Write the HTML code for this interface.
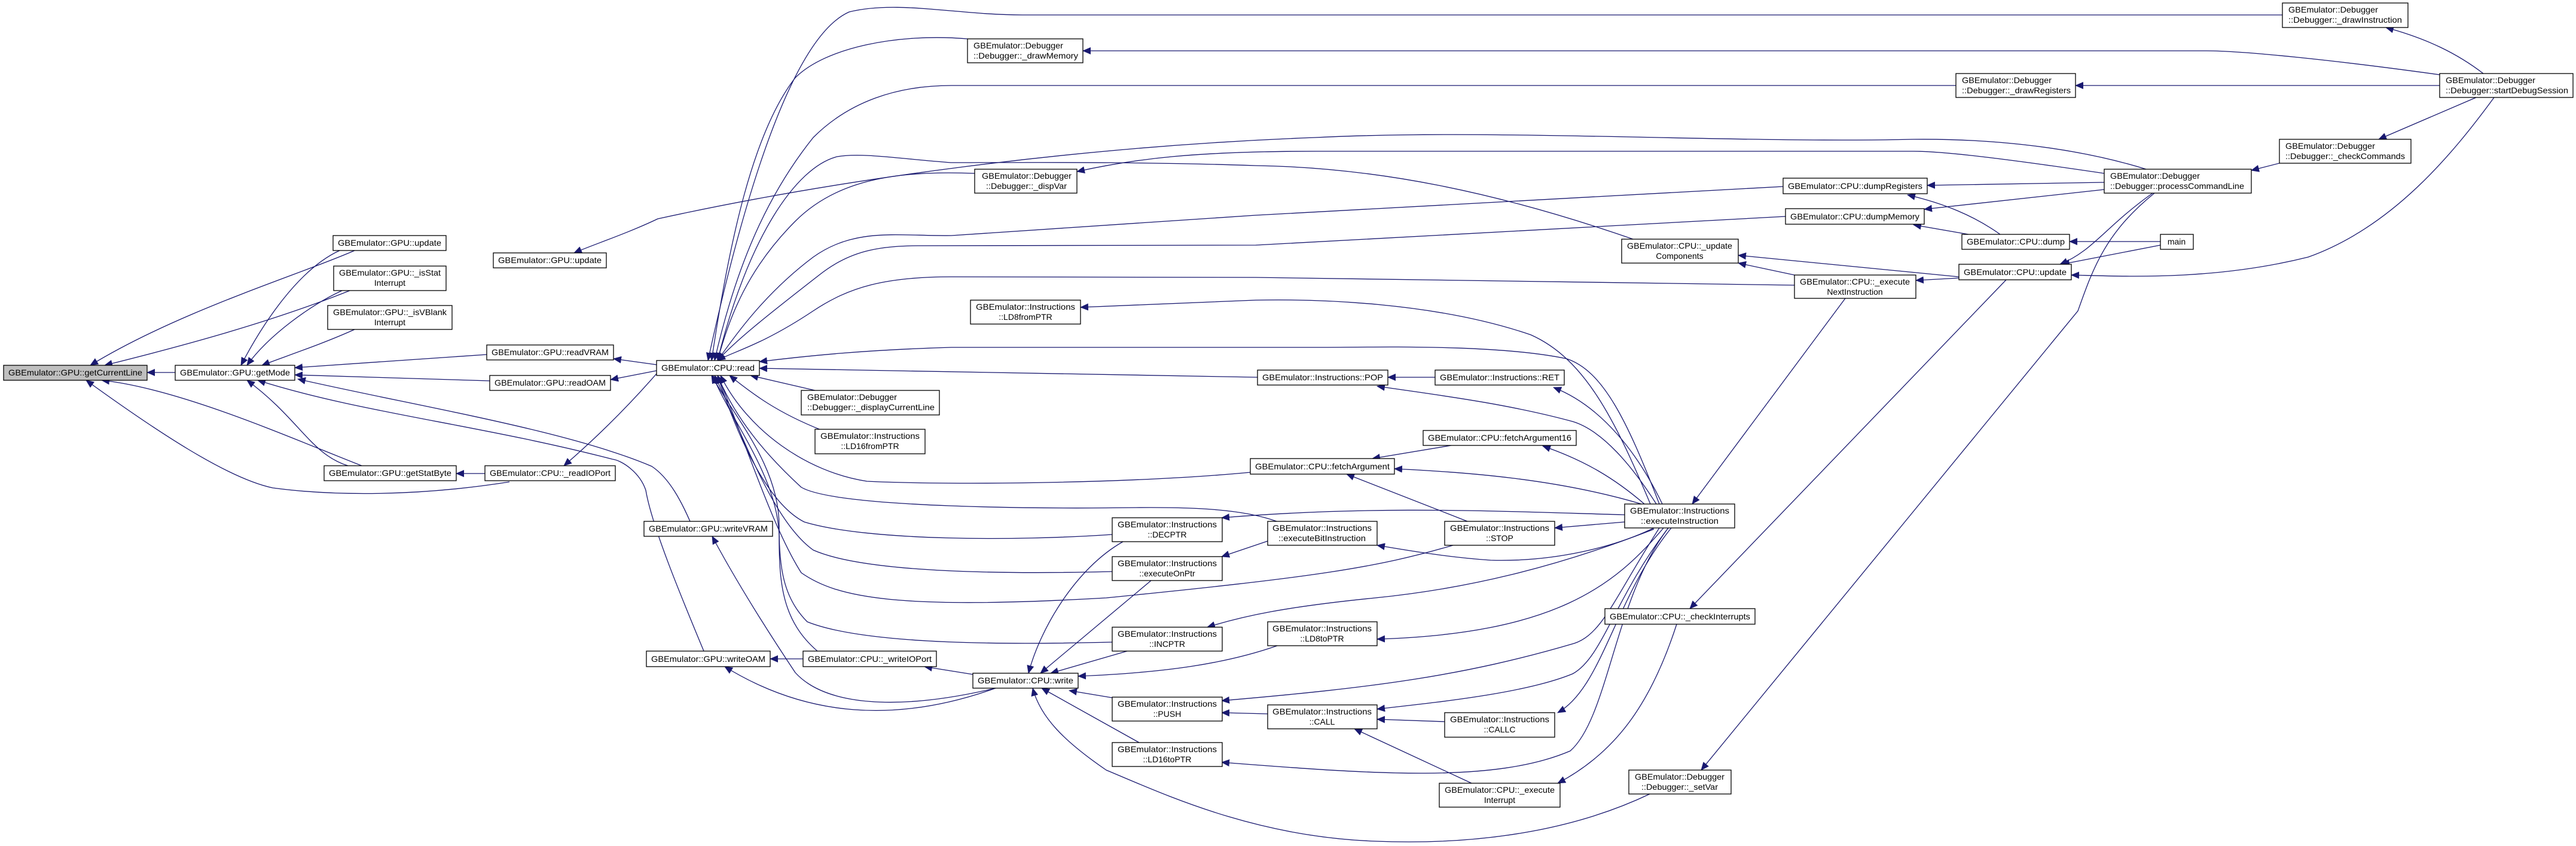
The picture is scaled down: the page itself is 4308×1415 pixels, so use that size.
<!DOCTYPE html>
<html><head><meta charset="utf-8"><style>
html,body{margin:0;padding:0;background:#fff}
svg{display:block}
text{font-family:"Liberation Sans",sans-serif;font-size:14px;fill:#000}
.e{fill:none;stroke:#191970;stroke-width:1.3}
.n{fill:#fff;stroke:#000;stroke-width:1.3}
</style></head><body>
<svg width="4308" height="1415" viewBox="0 0 4308 1415" xmlns="http://www.w3.org/2000/svg">
<defs><marker id="a" markerUnits="userSpaceOnUse" markerWidth="14" markerHeight="12" refX="13" refY="6" orient="auto"><path d="M0,0 L14,6 L0,12 z" fill="#191970"/></marker></defs>
<g class="e" marker-end="url(#a)">
<path d="M293,623 L246,623"/>
<path d="M593,419 C500,460 300,520 151,611"/>
<path d="M568,419 C500,450 440,540 403,611"/>
<path d="M585,486 C450,540 300,580 175,611"/>
<path d="M572,486 C520,510 450,560 413,611"/>
<path d="M593,551 C540,575 480,595 438,611"/>
<path d="M605,779 C480,730 300,650 170,636"/>
<path d="M582,779 C520,760 500,700 413,636"/>
<path d="M852,806 C700,830 560,830 456,816 C380,800 260,720 144,636"/>
<path d="M811,792 L763,792"/>
<path d="M1098,625 C1050,680 1000,730 943,779"/>
<path d="M814,593 L493,615"/>
<path d="M1098,610 L1026,600"/>
<path d="M819,637 L493,627"/>
<path d="M1098,620 L1021,635"/>
<path d="M1154,872 C1140,840 1120,800 1090,780 C950,720 700,680 498,634"/>
<path d="M1177,1089 C1140,1000 1090,880 1080,820 C1070,790 1040,770 1024,768 C800,710 600,690 431,636"/>
<path d="M1665,1151 C1500,1190 1380,1180 1330,1125 C1280,1050 1230,970 1191,897"/>
<path d="M1665,1151 C1500,1210 1350,1200 1212,1115"/>
<path d="M1627,1128 L1546,1115"/>
<path d="M1343,1102 L1288,1102"/>
<path d="M1367,1089 C1310,1040 1303,980 1303,900 C1303,800 1220,700 1192,628"/>
<path d="M3817,25 L1710,25 C1600,25 1500,0 1420,20 C1330,60 1250,300 1184,603"/>
<path d="M1618,65 C1500,55 1380,80 1330,130 C1260,220 1220,400 1190,603"/>
<path d="M3271,143 L1591,143 C1500,143 1420,170 1360,230 C1280,330 1230,450 1195,603"/>
<path d="M4080,125 C3900,100 3750,85 3690,85 L1811,85"/>
<path d="M4153,123 C4110,90 4060,65 3990,46"/>
<path d="M4080,143 L3471,143"/>
<path d="M4141,163 L3978,233"/>
<path d="M4171,163 C4100,260 4000,380 3860,430 C3700,470 3550,462 3464,460"/>
<path d="M3812,273 L3765,285"/>
<path d="M3589,283 C3450,240 3300,232 3200,233 C2900,240 2500,215 2200,230 C1800,245 1400,300 1100,366 C1050,390 990,410 960,423"/>
<path d="M2731,400 C2500,320 2300,280 2100,277 C1900,270 1700,272 1590,272 C1500,265 1440,255 1400,262 C1330,280 1250,400 1200,603"/>
<path d="M3519,290 C3350,265 3250,253 3200,253 L2200,253 C2000,253 1900,265 1801,287"/>
<path d="M1630,290 C1500,285 1400,300 1330,370 C1250,450 1220,530 1200,603"/>
<path d="M3519,305 L3223,310"/>
<path d="M3519,317 L3218,350"/>
<path d="M2982,312 L2100,360 L1591,394 C1500,395 1430,380 1360,430 C1280,490 1230,560 1200,603"/>
<path d="M2986,362 L2100,410 L1535,411 C1470,411 1420,420 1370,460 C1280,530 1230,570 1200,603"/>
<path d="M3001,477 L2100,464 L1591,463 C1480,463 1420,480 1360,520 C1270,580 1220,590 1200,603"/>
<path d="M3345,392 C3300,360 3250,340 3190,326"/>
<path d="M3292,392 L3200,376"/>
<path d="M3613,404 L3461,404"/>
<path d="M3613,410 L3448,442"/>
<path d="M3600,323 C3520,380 3500,420 3445,442"/>
<path d="M3276,463 L2907,427"/>
<path d="M3001,460 L2907,440"/>
<path d="M3276,465 L3204,469"/>
<path d="M3355,468 L2826,1018"/>
<path d="M3603,323 C3520,390 3500,450 3475,520 L2845,1288"/>
<path d="M3086,499 L2830,843"/>
<path d="M2759,1328 C2650,1380 2500,1415 2300,1407 C2100,1400 1950,1330 1850,1288 C1780,1240 1740,1200 1727,1151"/>
<path d="M2804,1044 C2760,1180 2700,1260 2605,1310"/>
<path d="M2760,843 C2700,700 2650,600 2560,560 C2400,505 2200,500 2100,502 L1807,514"/>
<path d="M2775,843 C2720,700 2680,620 2620,600 C2500,575 2300,581 2200,581 L1591,581 C1450,585 1350,595 1270,605"/>
<path d="M2770,843 C2730,780 2680,720 2630,705 C2520,675 2400,660 2303,646"/>
<path d="M2780,843 C2740,760 2680,680 2598,648"/>
<path d="M2750,843 C2700,800 2650,770 2580,746"/>
<path d="M2745,843 C2600,800 2450,790 2332,784"/>
<path d="M2717,873 L2600,883"/>
<path d="M2766,883 C2700,915 2600,940 2493,937 C2420,932 2350,920 2303,912"/>
<path d="M2782,883 C2700,980 2600,1060 2303,1069"/>
<path d="M2790,883 C2700,1000 2680,1100 2630,1127 C2550,1160 2400,1175 2303,1186"/>
<path d="M2795,883 C2700,1000 2680,1150 2605,1192"/>
<path d="M2717,861 C2500,855 2300,845 2043,866"/>
<path d="M2766,885 C2600,950 2450,985 2300,1000 C2150,1015 2080,1030 2019,1049"/>
<path d="M2775,883 C2700,1000 2680,1060 2633,1076 C2450,1130 2300,1150 2043,1172"/>
<path d="M2790,883 C2700,1000 2690,1200 2626,1256 C2500,1310 2300,1295 2043,1275"/>
<path d="M2120,905 L2043,931"/>
<path d="M2430,912 C2300,950 2200,965 1850,1000 C1500,1020 1400,1000 1340,958 C1290,880 1240,720 1200,628"/>
<path d="M2454,872 L2252,793"/>
<path d="M2427,745 L2295,767"/>
<path d="M2135,872 C2080,852 2000,848 1900,849 C1750,851 1400,850 1340,815 C1280,760 1230,700 1200,628"/>
<path d="M1860,894 C1700,905 1450,905 1345,873 C1280,840 1230,720 1200,628"/>
<path d="M1860,956 C1700,960 1450,960 1360,920 C1290,870 1240,720 1195,628"/>
<path d="M1860,1074 C1700,1078 1450,1080 1350,1040 C1310,1000 1303,950 1303,880 C1303,780 1230,700 1190,628"/>
<path d="M1878,906 C1800,950 1740,1050 1720,1126"/>
<path d="M1925,971 L1740,1126"/>
<path d="M1885,1089 L1757,1126"/>
<path d="M2136,1080 C2050,1110 1950,1125 1803,1131"/>
<path d="M1860,1167 L1788,1155"/>
<path d="M1905,1242 L1742,1151"/>
<path d="M2120,1194 L2043,1192"/>
<path d="M2416,1207 L2303,1203"/>
<path d="M2461,1310 L2265,1219"/>
<path d="M2091,790 C1900,808 1600,812 1450,805 C1350,790 1250,720 1205,628"/>
<path d="M2103,631 L1270,616"/>
<path d="M2400,631 L2321,631"/>
<path d="M1363,653 L1255,628"/>
<path d="M1373,719 C1300,690 1260,660 1220,628"/>
</g>
<g>
<rect x="6" y="611" width="240" height="25" fill="#bfbfbf" stroke="#000" stroke-width="1.3"/>
<text x="14" y="628" textLength="224" lengthAdjust="spacingAndGlyphs">GBEmulator::GPU::getCurrentLine</text>
<rect class="n" x="293" y="611" width="200" height="25"/><text x="301" y="628" textLength="184" lengthAdjust="spacingAndGlyphs">GBEmulator::GPU::getMode</text>
<rect class="n" x="557" y="394" width="189" height="25"/><text x="565" y="411" textLength="173" lengthAdjust="spacingAndGlyphs">GBEmulator::GPU::update</text>
<rect class="n" x="558" y="445" width="188" height="41"/><text x="567" y="461" textLength="170" lengthAdjust="spacingAndGlyphs">GBEmulator::GPU::_isStat</text><text x="652" y="478" text-anchor="middle">Interrupt</text>
<rect class="n" x="548" y="511" width="208" height="40"/><text x="557" y="527" textLength="190" lengthAdjust="spacingAndGlyphs">GBEmulator::GPU::_isVBlank</text><text x="652" y="544" text-anchor="middle">Interrupt</text>
<rect class="n" x="825" y="423" width="189" height="25"/><text x="833" y="440" textLength="173" lengthAdjust="spacingAndGlyphs">GBEmulator::GPU::update</text>
<rect class="n" x="814" y="577" width="212" height="25"/><text x="822" y="594" textLength="196" lengthAdjust="spacingAndGlyphs">GBEmulator::GPU::readVRAM</text>
<rect class="n" x="819" y="628" width="202" height="25"/><text x="827" y="645" textLength="186" lengthAdjust="spacingAndGlyphs">GBEmulator::GPU::readOAM</text>
<rect class="n" x="542" y="779" width="221" height="25"/><text x="550" y="796" textLength="205" lengthAdjust="spacingAndGlyphs">GBEmulator::GPU::getStatByte</text>
<rect class="n" x="811" y="779" width="218" height="25"/><text x="819" y="796" textLength="202" lengthAdjust="spacingAndGlyphs">GBEmulator::CPU::_readIOPort</text>
<rect class="n" x="1077" y="872" width="215" height="25"/><text x="1085" y="889" textLength="199" lengthAdjust="spacingAndGlyphs">GBEmulator::GPU::writeVRAM</text>
<rect class="n" x="1081" y="1089" width="207" height="26"/><text x="1089" y="1107" textLength="191" lengthAdjust="spacingAndGlyphs">GBEmulator::GPU::writeOAM</text>
<rect class="n" x="1343" y="1089" width="223" height="26"/><text x="1351" y="1107" textLength="207" lengthAdjust="spacingAndGlyphs">GBEmulator::CPU::_writeIOPort</text>
<rect class="n" x="1098" y="603" width="172" height="25"/><text x="1106" y="620" textLength="156" lengthAdjust="spacingAndGlyphs">GBEmulator::CPU::read</text>
<rect class="n" x="1618" y="65" width="193" height="40"/><text x="1628" y="81" textLength="150" lengthAdjust="spacingAndGlyphs">GBEmulator::Debugger</text><text x="1628" y="98" textLength="175" lengthAdjust="spacingAndGlyphs">::Debugger::_drawMemory</text>
<rect class="n" x="1630" y="283" width="171" height="40"/><text x="1642" y="299" textLength="150" lengthAdjust="spacingAndGlyphs">GBEmulator::Debugger</text><text x="1649" y="316" textLength="135" lengthAdjust="spacingAndGlyphs">::Debugger::_dispVar</text>
<rect class="n" x="1623" y="502" width="184" height="40"/><text x="1715" y="518" text-anchor="middle" textLength="166" lengthAdjust="spacingAndGlyphs">GBEmulator::Instructions</text><text x="1715" y="535" text-anchor="middle">::LD8fromPTR</text>
<rect class="n" x="1340" y="653" width="231" height="41"/><text x="1350" y="669" textLength="150" lengthAdjust="spacingAndGlyphs">GBEmulator::Debugger</text><text x="1350" y="686" textLength="213" lengthAdjust="spacingAndGlyphs">::Debugger::_displayCurrentLine</text>
<rect class="n" x="1363" y="718" width="184" height="41"/><text x="1455" y="734" text-anchor="middle" textLength="166" lengthAdjust="spacingAndGlyphs">GBEmulator::Instructions</text><text x="1455" y="751" text-anchor="middle">::LD16fromPTR</text>
<rect class="n" x="1627" y="1126" width="176" height="25"/><text x="1635" y="1143" textLength="160" lengthAdjust="spacingAndGlyphs">GBEmulator::CPU::write</text>
<rect class="n" x="1860" y="866" width="184" height="40"/><text x="1952" y="882" text-anchor="middle" textLength="166" lengthAdjust="spacingAndGlyphs">GBEmulator::Instructions</text><text x="1952" y="899" text-anchor="middle">::DECPTR</text>
<rect class="n" x="1860" y="931" width="184" height="40"/><text x="1952" y="947" text-anchor="middle" textLength="166" lengthAdjust="spacingAndGlyphs">GBEmulator::Instructions</text><text x="1952" y="964" text-anchor="middle">::executeOnPtr</text>
<rect class="n" x="1860" y="1049" width="184" height="40"/><text x="1952" y="1065" text-anchor="middle" textLength="166" lengthAdjust="spacingAndGlyphs">GBEmulator::Instructions</text><text x="1952" y="1082" text-anchor="middle">::INCPTR</text>
<rect class="n" x="1860" y="1166" width="184" height="40"/><text x="1952" y="1182" text-anchor="middle" textLength="166" lengthAdjust="spacingAndGlyphs">GBEmulator::Instructions</text><text x="1952" y="1199" text-anchor="middle">::PUSH</text>
<rect class="n" x="1860" y="1242" width="184" height="40"/><text x="1952" y="1258" text-anchor="middle" textLength="166" lengthAdjust="spacingAndGlyphs">GBEmulator::Instructions</text><text x="1952" y="1275" text-anchor="middle">::LD16toPTR</text>
<rect class="n" x="2091" y="767" width="241" height="26"/><text x="2099" y="785" textLength="225" lengthAdjust="spacingAndGlyphs">GBEmulator::CPU::fetchArgument</text>
<rect class="n" x="2103" y="619" width="218" height="25"/><text x="2111" y="636" textLength="202" lengthAdjust="spacingAndGlyphs">GBEmulator::Instructions::POP</text>
<rect class="n" x="2400" y="619" width="216" height="25"/><text x="2408" y="636" textLength="200" lengthAdjust="spacingAndGlyphs">GBEmulator::Instructions::RET</text>
<rect class="n" x="2380" y="720" width="256" height="25"/><text x="2388" y="737" textLength="240" lengthAdjust="spacingAndGlyphs">GBEmulator::CPU::fetchArgument16</text>
<rect class="n" x="2120" y="872" width="183" height="40"/><text x="2211" y="888" text-anchor="middle" textLength="166" lengthAdjust="spacingAndGlyphs">GBEmulator::Instructions</text><text x="2211" y="905" text-anchor="middle" textLength="146" lengthAdjust="spacingAndGlyphs">::executeBitInstruction</text>
<rect class="n" x="2416" y="872" width="184" height="40"/><text x="2508" y="888" text-anchor="middle" textLength="166" lengthAdjust="spacingAndGlyphs">GBEmulator::Instructions</text><text x="2508" y="905" text-anchor="middle">::STOP</text>
<rect class="n" x="2120" y="1040" width="183" height="40"/><text x="2211" y="1056" text-anchor="middle" textLength="166" lengthAdjust="spacingAndGlyphs">GBEmulator::Instructions</text><text x="2211" y="1073" text-anchor="middle">::LD8toPTR</text>
<rect class="n" x="2120" y="1179" width="183" height="40"/><text x="2211" y="1195" text-anchor="middle" textLength="166" lengthAdjust="spacingAndGlyphs">GBEmulator::Instructions</text><text x="2211" y="1212" text-anchor="middle">::CALL</text>
<rect class="n" x="2416" y="1192" width="184" height="41"/><text x="2508" y="1208" text-anchor="middle" textLength="166" lengthAdjust="spacingAndGlyphs">GBEmulator::Instructions</text><text x="2508" y="1225" text-anchor="middle">::CALLC</text>
<rect class="n" x="2407" y="1310" width="202" height="40"/><text x="2508" y="1326" text-anchor="middle" textLength="184" lengthAdjust="spacingAndGlyphs">GBEmulator::CPU::_execute</text><text x="2508" y="1343" text-anchor="middle">Interrupt</text>
<rect class="n" x="2717" y="843" width="184" height="40"/><text x="2809" y="859" text-anchor="middle" textLength="166" lengthAdjust="spacingAndGlyphs">GBEmulator::Instructions</text><text x="2809" y="876" text-anchor="middle" textLength="130" lengthAdjust="spacingAndGlyphs">::executeInstruction</text>
<rect class="n" x="2684" y="1018" width="251" height="26"/><text x="2692" y="1036" textLength="235" lengthAdjust="spacingAndGlyphs">GBEmulator::CPU::_checkInterrupts</text>
<rect class="n" x="2724" y="1288" width="171" height="40"/><text x="2809" y="1304" text-anchor="middle" textLength="150" lengthAdjust="spacingAndGlyphs">GBEmulator::Debugger</text><text x="2809" y="1321" text-anchor="middle" textLength="128" lengthAdjust="spacingAndGlyphs">::Debugger::_setVar</text>
<rect class="n" x="2712" y="400" width="195" height="40"/><text x="2809" y="416" text-anchor="middle" textLength="176" lengthAdjust="spacingAndGlyphs">GBEmulator::CPU::_update</text><text x="2809" y="433" text-anchor="middle">Components</text>
<rect class="n" x="3001" y="460" width="203" height="39"/><text x="3102" y="476" text-anchor="middle" textLength="184" lengthAdjust="spacingAndGlyphs">GBEmulator::CPU::_execute</text><text x="3102" y="493" text-anchor="middle">NextInstruction</text>
<rect class="n" x="2982" y="298" width="241" height="26"/><text x="2990" y="316" textLength="225" lengthAdjust="spacingAndGlyphs">GBEmulator::CPU::dumpRegisters</text>
<rect class="n" x="2986" y="349" width="232" height="26"/><text x="2994" y="367" textLength="216" lengthAdjust="spacingAndGlyphs">GBEmulator::CPU::dumpMemory</text>
<rect class="n" x="3817" y="5" width="210" height="41"/><text x="3827" y="21" textLength="150" lengthAdjust="spacingAndGlyphs">GBEmulator::Debugger</text><text x="3827" y="38" textLength="190" lengthAdjust="spacingAndGlyphs">::Debugger::_drawInstruction</text>
<rect class="n" x="3271" y="123" width="200" height="40"/><text x="3281" y="139" textLength="150" lengthAdjust="spacingAndGlyphs">GBEmulator::Debugger</text><text x="3281" y="156" textLength="182" lengthAdjust="spacingAndGlyphs">::Debugger::_drawRegisters</text>
<rect class="n" x="4080" y="123" width="223" height="40"/><text x="4090" y="139" textLength="150" lengthAdjust="spacingAndGlyphs">GBEmulator::Debugger</text><text x="4090" y="156" textLength="205" lengthAdjust="spacingAndGlyphs">::Debugger::startDebugSession</text>
<rect class="n" x="3812" y="233" width="220" height="40"/><text x="3822" y="249" textLength="150" lengthAdjust="spacingAndGlyphs">GBEmulator::Debugger</text><text x="3822" y="266" textLength="200" lengthAdjust="spacingAndGlyphs">::Debugger::_checkCommands</text>
<rect class="n" x="3519" y="283" width="246" height="40"/><text x="3529" y="299" textLength="150" lengthAdjust="spacingAndGlyphs">GBEmulator::Debugger</text><text x="3529" y="316" textLength="224" lengthAdjust="spacingAndGlyphs">::Debugger::processCommandLine</text>
<rect class="n" x="3281" y="392" width="180" height="25"/><text x="3289" y="409" textLength="164" lengthAdjust="spacingAndGlyphs">GBEmulator::CPU::dump</text>
<rect class="n" x="3613" y="392" width="55" height="25"/><text x="3640" y="409" text-anchor="middle">main</text>
<rect class="n" x="3276" y="442" width="188" height="26"/><text x="3284" y="460" textLength="172" lengthAdjust="spacingAndGlyphs">GBEmulator::CPU::update</text>
</g>
</svg>
</body></html>
